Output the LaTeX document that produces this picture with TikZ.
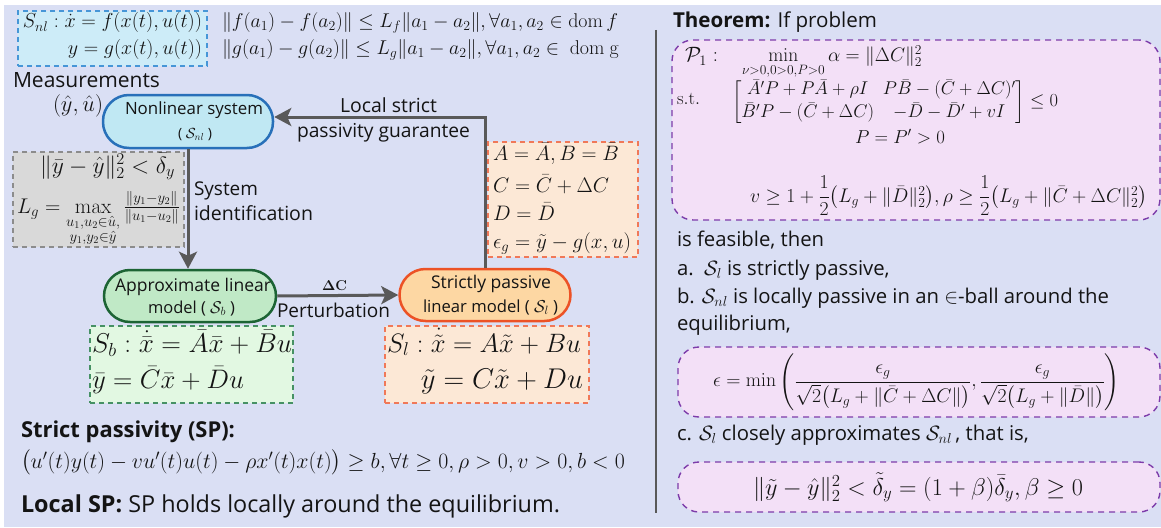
\documentclass[tikz,border=0pt]{standalone}
\usepackage{amsmath,amssymb}
\usepackage[no-math]{fontspec}
\setmainfont{Open Sans}
\usetikzlibrary{arrows.meta}
\definecolor{bgc}{RGB}{218,223,244}
\definecolor{bluefill}{RGB}{205,236,248}
\definecolor{blueline}{RGB}{70,150,215}
\definecolor{nlfill}{RGB}{192,232,243}
\definecolor{nlline}{RGB}{40,112,185}
\definecolor{grayfill}{RGB}{217,217,217}
\definecolor{grayline}{RGB}{140,140,140}
\definecolor{apfill}{RGB}{192,233,198}
\definecolor{apline}{RGB}{28,100,52}
\definecolor{greenfill}{RGB}{226,248,226}
\definecolor{greenline}{RGB}{70,145,100}
\definecolor{spfill}{RGB}{253,215,163}
\definecolor{spline}{RGB}{236,82,38}
\definecolor{orfill}{RGB}{252,232,214}
\definecolor{orline}{RGB}{240,120,88}
\definecolor{pufill}{RGB}{243,224,247}
\definecolor{puline}{RGB}{125,60,170}
\definecolor{arrc}{RGB}{89,89,89}
\definecolor{txtc}{RGB}{20,20,20}
\newcommand{\fw}[2]{\resizebox{#1pt}{!}{#2}}
\begin{document}
\begin{tikzpicture}[x=1pt,y=-1pt,
  txt/.style={inner sep=0pt,outer sep=0pt,anchor=base west,text=txtc,font=\fontsize{20}{24}\selectfont},
  body/.style={txt,font=\fontsize{20.3}{24}\selectfont},
  pill/.style={rectangle,rounded corners=26pt,line width=2.5pt,inner sep=0pt,minimum height=53pt},
  dbox/.style={rectangle,dashed,dash pattern=on 5pt off 4pt,line width=1.4pt,inner sep=0pt},
  pbox/.style={rectangle,rounded corners=21pt,dashed,dash pattern=on 6pt off 5pt,line width=1.4pt,inner sep=0pt,draw=puline,fill=pufill},
  arr/.style={draw=arrc,line width=3pt,-{Stealth[length=17pt,width=18pt,inset=4pt]}},
]
\useasboundingbox (0,0) rectangle (1161,527);
\fill[white] (0,0) rectangle (1161,527);
\fill[bgc] (4,5) rectangle (1161,527);

% ---------- top-left ----------
\node[dbox,draw=blueline,fill=bluefill,minimum width=189pt,minimum height=55pt] (snlbox) at (112.5,38.5) {};
\node[txt] (snl1) at (23,28) {\fw{179}{$S_{nl}: \dot{x} = f(x(t),u(t))$}};
\node[txt,anchor=base east] (snl2) at (202,55) {\fw{134}{$y = g(x(t),u(t))$}};
\node[txt] (lip1) at (222,28) {\fw{396}{$\|f(a_1)-f(a_2)\| \leq L_f\|a_1-a_2\|, \forall a_1,a_2\in \mathrm{dom}\, f$}};
\node[txt] (lip2) at (222,55) {\fw{397}{$\|g(a_1)-g(a_2)\| \leq L_g\|a_1-a_2\|, \forall a_1,a_2\in\ \mathrm{dom\ g}$}};

\node[txt] (meas) at (13,88) {\fw{147}{Measurements}};
\node[txt] (yu) at (53,111) {\fw{50}{$(\hat y,\hat u)$}};

% ---------- nodes ----------
\node[pill,draw=nlline,fill=nlfill,minimum width=170pt] (nl) at (188,121.5) {};
\node[txt] (nlt1) at (125,114) {\fw{138}{Nonlinear system}};
\node[txt] (nlt2) at (178,138) {\fw{34}{( $\mathcal{S}_{nl}$ )}};

\node[pill,draw=apline,fill=apfill,minimum width=172pt,minimum height=52pt] (ap) at (190,296) {};
\node[txt] (apt1) at (115,291) {\fw{156}{Approximate linear}};
\node[txt] (apt2) at (148,313) {\fw{87}{model ( $\mathcal{S}_b$ )}};

\node[pill,draw=spline,fill=spfill,minimum width=171pt,minimum height=52pt] (sp) at (485,295) {};
\node[txt] (spt1) at (431,288) {\fw{120}{Strictly passive}};
\node[txt] (spt2) at (423,312) {\fw{135}{linear model ( $\mathcal{S}_l$ )}};

% ---------- gray box ----------
\node[dbox,draw=grayline,fill=grayfill,minimum width=171pt,minimum height=95pt] (graybox) at (98.5,199.5) {};
\node[txt] (gr1) at (40,173) {\fw{135}{$\|\bar y-\hat y\|_2^2 < \bar\delta_y$}};
\node[txt] (gr2) at (17,213) {\fw{163}{$L_g = \max\limits_{\substack{u_1,u_2\in\hat u,\\ y_1,y_2\in\hat y}} \frac{\|y_1-y_2\|}{\|u_1-u_2\|}$}};

% ---------- arrows ----------
\draw[arr] (nl.south) -- (nl.south |- ap.north);
\draw[arr] (ap.east) -- (sp.west);
\draw[arr] (sp.north) |- ([yshift=4.5pt]nl.east);

\node[txt] (sys1) at (194,195) {\fw{64}{System}};
\node[txt] (sys2) at (194,220) {\fw{119}{identification}};
\node[txt] (lsp1) at (340,112) {\fw{97}{Local strict}};
\node[txt] (lsp2) at (297,137) {\fw{173}{passivity guarantee}};
\node[txt] (dc) at (322,290) {\fw{25}{$\mathbf{\Delta C}$}};
\node[txt] (pert) at (277,317) {\fw{113}{Perturbation}};

% ---------- orange upper box ----------
\node[dbox,draw=orline,fill=orfill,minimum width=150pt,minimum height=115pt] (orbox1) at (563,199.5) {};
\node[txt] (or1) at (493,160) {\fw{126}{$A=\bar A, B=\bar B$}};
\node[txt] (or2) at (493,192) {\fw{116}{$C=\bar C+\Delta C$}};
\node[txt] (or3) at (493,220) {\fw{62}{$D=\bar D$}};
\node[txt] (or4) at (493,248) {\fw{138}{$\epsilon_g=\tilde y-g(x,u)$}};

% ---------- lower boxes ----------
\node[dbox,draw=greenline,fill=greenfill,minimum width=203pt,minimum height=77pt] (grbox) at (191.5,364.5) {};
\node[txt] (sb1) at (92,352) {\fw{200}{$S_b : \dot{\bar x} = \bar A\bar x + \bar B u$}};
\node[txt] (sb2) at (92,388) {\fw{152}{$\bar y = \bar C\bar x + \bar D u$}};

\node[dbox,draw=orline,fill=orfill,minimum width=204pt,minimum height=77pt] (orbox2) at (487,364.5) {};
\node[txt] (sl1) at (387,352) {\fw{194}{$S_l :\dot{\tilde x} = A\tilde x + Bu$}};
\node[txt,anchor=base east] (sl2) at (583,388) {\fw{162}{$\tilde y = C\tilde x + Du$}};

% ---------- bottom-left text ----------
\node[txt] (spt) at (21,437) {\fw{214}{\bfseries Strict passivity (SP):}};
\node[txt] (speq) at (21,468) {\fw{604}{$\big(u'(t)y(t) - vu'(t)u(t) - \rho x'(t)x(t)\big) \geq b, \forall t \geq 0, \rho > 0, v > 0, b < 0$}};
\node[txt] (lsp) at (21,512) {\fw{539}{\textbf{Local SP:} SP holds locally around the equilibrium.}};

% ---------- divider ----------
\draw[arrc,line width=2pt] (656,30) coordinate (dv1) -- (656,513) coordinate (dv2);

% ---------- right side ----------
\node[txt] (thm) at (673,28) {\fw{204}{\textbf{Theorem:} If problem}};
\node[pbox,minimum width=488pt,minimum height=180pt] (pb1) at (916,130) {};
\node[txt] (p1) at (685,62) {\fw{33}{$\mathcal{P}_1:$}};
\node[txt] (pmin) at (742,62) {\fw{180}{$\min\limits_{\nu>0,0>0,P>0} \alpha = \|\Delta C\|_2^2$}};
\node[txt] (st) at (677,104) {\fw{23}{$\mathrm{s.t.}$}};
\node[txt,anchor=west] (lmi) at (732,102) {\fw{326}{$\begin{bmatrix} \bar A'P + P\bar A + \rho I & P\bar B - (\bar C + \Delta C)' \\[2pt] \bar B'P - (\bar C+\Delta C) & -\bar D - \bar D' + vI \end{bmatrix} \leq 0$}};
\node[txt] (ppos) at (855,143) {\fw{90}{$P = P' > 0$}};
\node[txt,anchor=west] (vrho) at (750,196) {\fw{397}{$v \geq 1 + \dfrac{1}{2}\big(L_g + \|\bar D\|_2^2\big), \rho \geq \dfrac{1}{2}\big(L_g + \|\bar C + \Delta C\|_2^2\big)$}};

\node[body] (feas) at (677,246) {is feasible, then};
\node[body] (ia) at (677,275) {a.\ \ $\mathcal{S}_l$ is strictly passive,};
\node[body] (ib) at (677,303) {b. $\mathcal{S}_{nl}$ is locally passive in an $\in$-ball around the};
\node[body] (ib2) at (677,330) {equilibrium,};

\node[pbox,minimum width=482pt,minimum height=70pt] (pb2) at (919,382) {};
\node[txt,anchor=west] (epsf) at (713,382) {\fw{407}{$\epsilon = \min\left(\dfrac{\epsilon_g}{\sqrt{2}\big(L_g + \|\bar C + \Delta C\|\big)}, \dfrac{\epsilon_g}{\sqrt{2}\big(L_g + \|\bar D\|\big)}\right)$}};

\node[body] (ic) at (677,440) {c. $\mathcal{S}_l$ closely approximates $\mathcal{S}_{nl}$\,, that is,};
\node[pbox,minimum width=482pt,minimum height=50pt] (pb3) at (919,487) {};
\node[txt] (dlt) at (753,495) {\fw{330}{$\|\tilde y - \hat y\|_2^2 < \tilde\delta_y = (1+\beta)\bar\delta_y, \beta \geq 0$}};
\end{tikzpicture}
\end{document}
